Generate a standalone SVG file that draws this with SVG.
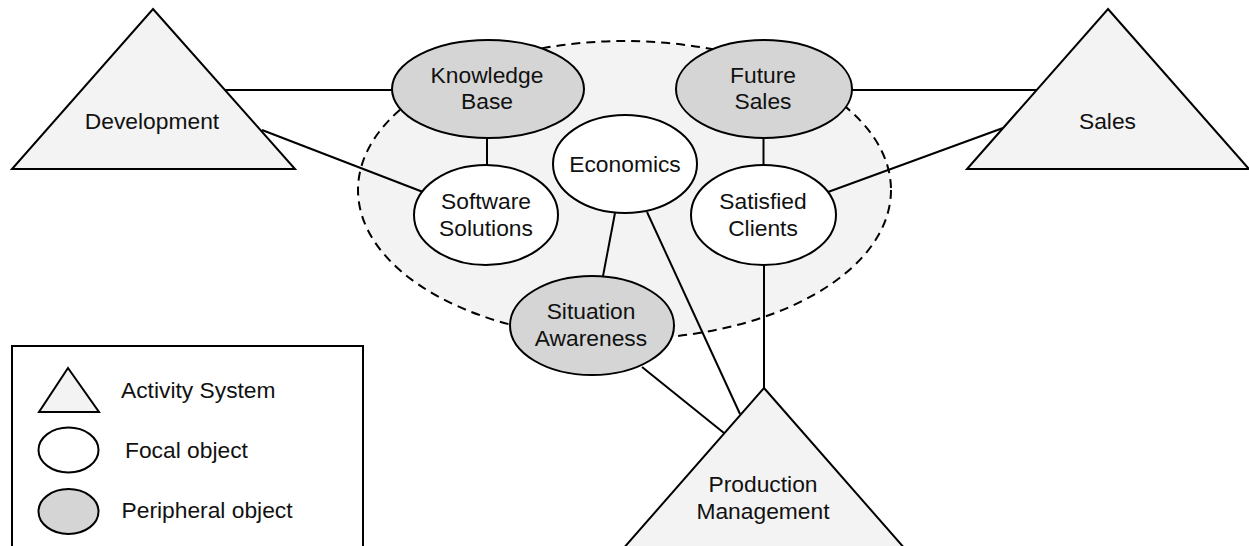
<svg xmlns="http://www.w3.org/2000/svg" width="1249" height="546" viewBox="0 0 1249 546">
<style>
.tri{fill:#f3f3f3;stroke:#000;stroke-width:2;stroke-linejoin:miter}
.foc{fill:#fff;stroke:#000;stroke-width:2}
.per{fill:#d5d5d5;stroke:#000;stroke-width:2}
.con{stroke:#000;stroke-width:2;fill:none}
text{font-family:"Liberation Sans",Arial,Helvetica,sans-serif;font-size:22.8px;fill:#111}
.c{text-anchor:middle}
</style>
<rect width="1249" height="546" fill="#fff"/>
<g id="scope">
<ellipse cx="624.5" cy="190" rx="266.5" ry="149" fill="#f3f3f3" stroke="#000" stroke-width="2" stroke-dasharray="9 6"/>
</g>
<g id="connectors">
<line class="con" x1="224" y1="90" x2="392" y2="90"/>
<line class="con" x1="262" y1="130" x2="423" y2="192"/>
<line class="con" x1="487" y1="138" x2="487" y2="166"/>
<line class="con" x1="852" y1="90" x2="1037" y2="90"/>
<line class="con" x1="828" y1="192" x2="1003" y2="128"/>
<line class="con" x1="763.5" y1="138" x2="763.5" y2="166"/>
<line class="con" x1="764" y1="265" x2="764" y2="388"/>
<line class="con" x1="615" y1="213" x2="603" y2="276"/>
<line class="con" x1="647" y1="212" x2="740" y2="414"/>
<line class="con" x1="642" y1="367" x2="724" y2="433"/>
</g>
<g id="development">
<polygon class="tri" points="153,9 295,169 12,169"/>
<text class="c" x="152" y="129">Development</text>
</g>
<g id="sales">
<polygon class="tri" points="1108,9 1249,169 967,169"/>
<text class="c" x="1107.5" y="129">Sales</text>
</g>
<g id="production-management">
<polygon class="tri" points="764,388 906,550 622,550"/>
<text class="c" x="763" y="492">Production</text>
<text class="c" x="763" y="519">Management</text>
</g>
<g id="knowledge-base">
<ellipse class="per" cx="488" cy="89" rx="96" ry="49"/>
<text class="c" x="487" y="83">Knowledge</text>
<text class="c" x="487" y="109">Base</text>
</g>
<g id="future-sales">
<ellipse class="per" cx="764" cy="89" rx="88" ry="49"/>
<text class="c" x="763" y="83">Future</text>
<text class="c" x="763" y="109">Sales</text>
</g>
<g id="economics">
<ellipse class="foc" cx="625" cy="164" rx="72" ry="49"/>
<text class="c" x="625" y="172">Economics</text>
</g>
<g id="software-solutions">
<ellipse class="foc" cx="486" cy="215" rx="72" ry="50"/>
<text class="c" x="486" y="209">Software</text>
<text class="c" x="486" y="236">Solutions</text>
</g>
<g id="satisfied-clients">
<ellipse class="foc" cx="763.5" cy="215" rx="72.5" ry="50"/>
<text class="c" x="763" y="209">Satisfied</text>
<text class="c" x="763" y="236">Clients</text>
</g>
<g id="situation-awareness">
<ellipse class="per" cx="592" cy="325.5" rx="82" ry="49.5"/>
<text class="c" x="591" y="319">Situation</text>
<text class="c" x="591" y="346">Awareness</text>
</g>
<g id="legend">
<rect x="12" y="346" width="351" height="210" fill="#fff" stroke="#000" stroke-width="2"/>
<polygon class="tri" points="68,368 99,412 39,412"/>
<text x="121" y="398">Activity System</text>
<ellipse class="foc" cx="68.5" cy="450" rx="30" ry="22.5"/>
<text x="125" y="458">Focal object</text>
<ellipse class="per" cx="68.5" cy="511.5" rx="30" ry="22.5"/>
<text x="121.5" y="518">Peripheral object</text>
</g>
</svg>
